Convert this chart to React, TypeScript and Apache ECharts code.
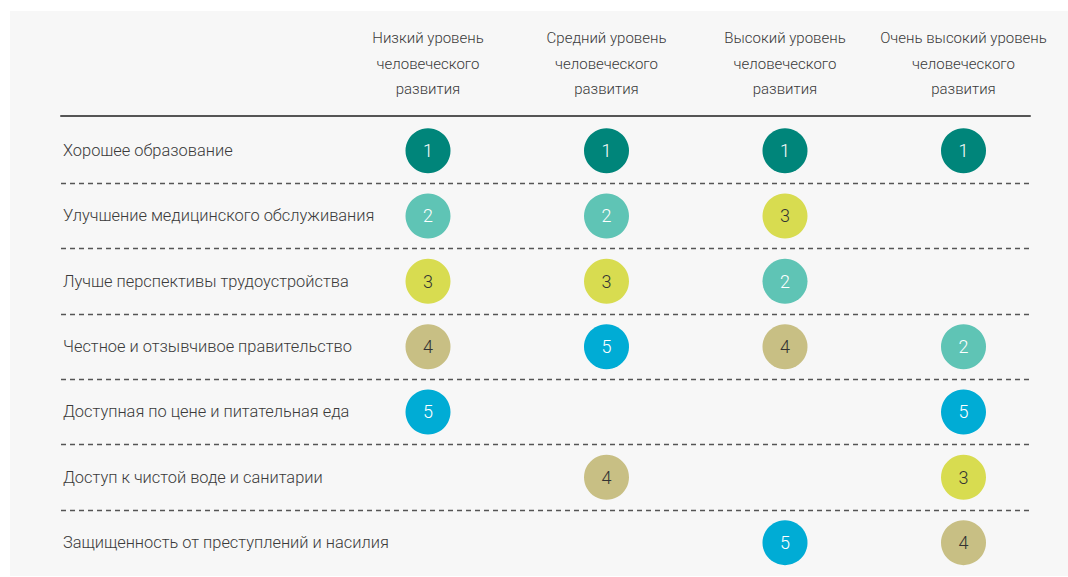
import React, { useEffect, useRef } from "react";
import * as echarts from "echarts";

const columns = [
  "Низкий уровень\nчеловеческого\nразвития",
  "Средний уровень\nчеловеческого\nразвития",
  "Высокий уровень\nчеловеческого\nразвития",
  "Очень высокий уровень\nчеловеческого\nразвития",
];

const rows = [
  "Хорошее образование",
  "Улучшение медицинского обслуживания",
  "Лучше перспективы трудоустройства",
  "Честное и отзывчивое правительство",
  "Доступная по цене и питательная еда",
  "Доступ к чистой воде и санитарии",
  "Защищенность от преступлений и насилия",
];

// rank per row, one entry per column (null = not ranked)
const lowRanks = [1, 2, 3, 4, 5, null, null];
const mediumRanks = [1, 2, 3, 5, null, 4, null];
const highRanks = [1, 3, 2, 4, null, null, 5];
const veryHighRanks = [1, null, null, 2, 5, 3, 4];

const rankColors: Record<number, string> = {
  1: "#00857a",
  2: "#5fc4b5",
  3: "#d8dc50",
  4: "#c8bf84",
  5: "#00acd5",
};
const rankTextColors: Record<number, string> = {
  1: "#ffffff",
  2: "#ffffff",
  3: "#333333",
  4: "#333333",
  5: "#ffffff",
};

const FONT = "Roboto, sans-serif";

export default function App() {
  const ref = useRef<HTMLDivElement>(null);

  useEffect(() => {
    document.body.style.margin = "0";
    if (!ref.current) return;
    const chart = echarts.init(ref.current, undefined, { renderer: "svg" });

    const allRanks = [lowRanks, mediumRanks, highRanks, veryHighRanks];
    const data: any[] = [];
    allRanks.forEach((col, ci) => {
      col.forEach((r, ri) => {
        if (r == null) return;
        data.push({
          value: [ci, ri, r],
          itemStyle: { color: rankColors[r], opacity: 1 },
          label: { color: rankTextColors[r] },
        });
      });
    });

    const gridTop = 107;
    const gridHeight = 457.3;

    chart.setOption({
      animation: false,
      backgroundColor: "transparent",
      textStyle: { fontFamily: FONT },
      grid: [
        { left: 51, width: 969, top: gridTop, height: gridHeight },
        { left: 328.75, width: 714, top: gridTop, height: gridHeight },
      ],
      xAxis: [
        {
          gridIndex: 0,
          type: "value",
          position: "top",
          offset: 2,
          axisLine: { show: true, lineStyle: { color: "#555555", width: 2 } },
          axisTick: { show: false },
          axisLabel: { show: false },
          splitLine: { show: false },
        },
        {
          gridIndex: 1,
          type: "category",
          position: "top",
          data: columns,
          axisLine: { show: false },
          axisTick: { show: false },
          splitLine: { show: false },
          axisLabel: {
            margin: 16,
            fontSize: 15,
            fontWeight: 300,
            lineHeight: 25.5,
            color: "#3a3a3a",
            fontFamily: FONT,
            align: "center",
            interval: 0,
          },
        },
      ],
      yAxis: [
        {
          gridIndex: 0,
          type: "category",
          inverse: true,
          data: rows,
          axisLine: { show: false },
          axisTick: { show: false },
          axisLabel: {
            inside: true,
            margin: 2,
            fontSize: 16.4,
            fontWeight: 300,
            color: "#3a3a3a",
            fontFamily: FONT,
          },
          splitLine: {
            show: true,
            showMinLine: false,
            showMaxLine: false,
            lineStyle: { color: "#555555", width: 1.3, type: [5, 4] },
          },
        },
        {
          gridIndex: 1,
          type: "category",
          inverse: true,
          data: rows,
          show: false,
        },
      ],
      series: [
        {
          type: "scatter",
          xAxisIndex: 1,
          yAxisIndex: 1,
          symbol: "circle",
          symbolSize: 45,
          itemStyle: { opacity: 1 },
          data,
          label: {
            show: true,
            position: "inside",
            fontSize: 18,
            fontWeight: 300,
            fontFamily: FONT,
            formatter: (p: any) => String(p.value[2]),
          },
          emphasis: { disabled: true },
        },
      ],
    });

    return () => chart.dispose();
  }, []);

  return (
    <div style={{ position: "relative", width: 1068, height: 577, background: "#ffffff" }}>
      <div
        style={{
          position: "absolute",
          left: 10,
          top: 11,
          width: 1058,
          height: 565,
          background: "#f7f7f7",
        }}
      >
        <div ref={ref} style={{ width: 1058, height: 565 }} />
      </div>
    </div>
  );
}
